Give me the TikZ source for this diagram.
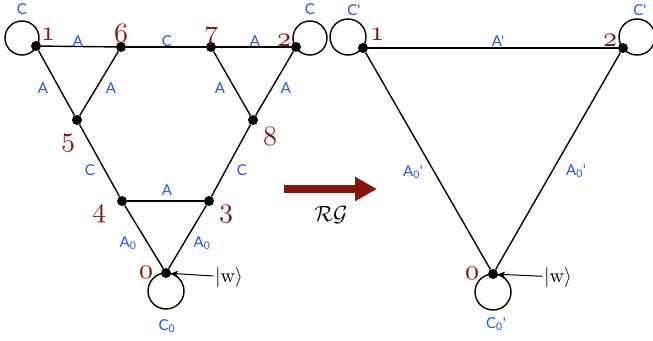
\documentclass[tikz,border=0pt]{standalone}
\usepackage{fontspec}
\newfontfamily\labfont{Lato}
\usetikzlibrary{arrows.meta,calc}
\definecolor{dred}{RGB}{135,20,8}
\definecolor{lblue}{RGB}{25,85,255}
\newcommand\bnum[1]{\scalebox{2.8}{{\fontencoding{OML}\fontfamily{cmm}\fontseries{m}\fontshape{it}\selectfont #1}}}
\newcommand\wket{\scalebox{2.0}{$|\mathrm{w}\rangle$}}
\begin{document}
\begin{tikzpicture}[x=1pt,y=-1pt,
  dot/.style={circle,fill=black,inner sep=0pt,minimum size=10pt},
  edge/.style={line width=1.4pt},
  num/.style={text=dred,inner sep=0pt},
  lab/.style={text=lblue,inner sep=0pt,font=\labfont\fontsize{15}{15}\selectfont},
  ket/.style={inner sep=1.5pt},
]
\useasboundingbox (0,0) rectangle (653,340);
% left graph nodes
\node[dot] (n1) at (36,46) {};
\node[dot] (n6) at (121,47) {};
\node[dot] (n7) at (211,47) {};
\node[dot] (n2) at (296,47) {};
\node[dot] (n5) at (77,120) {};
\node[dot] (n8) at (253,120) {};
\node[dot] (n4) at (122,201) {};
\node[dot] (n3) at (209,201) {};
\node[dot] (n0) at (166,273) {};
% loops
\draw[edge] (22,38) circle (17);
\draw[edge] (310,38) circle (17);
\draw[edge] (166,291) circle (18);
% edges
\draw[edge] (n1) -- (n6);
\draw[edge] (n6) -- (n7);
\draw[edge] (n7) -- (n2);
\draw[edge] (n1) -- (n5);
\draw[edge] (n6) -- (n5);
\draw[edge] (n7) -- (n8);
\draw[edge] (n2) -- (n8);
\draw[edge] (n5) -- (n4);
\draw[edge] (n8) -- (n3);
\draw[edge] (n4) -- (n3);
\draw[edge] (n4) -- (n0);
\draw[edge] (n3) -- (n0);
% numbers
\node[num] (t1) at (48,34) {\bnum{1}};
\node[num] (t6) at (121,33) {\bnum{6}};
\node[num] (t7) at (211,36) {\bnum{7}};
\node[num] (t2) at (284,40) {\bnum{2}};
\node[num] (t5) at (68,143) {\bnum{5}};
\node[num] (t8) at (270,136) {\bnum{8}};
\node[num] (t4) at (99,214) {\bnum{4}};
\node[num] (t3) at (226,214) {\bnum{3}};
\node[num] (t0) at (146,272) {\bnum{0}};
% edge labels
\node[lab] (lc1) at (22,9) {C};
\node[lab] (lc2) at (310,9) {C};
\node[lab] (lc0) at (167,326) {C\textsubscript{0}};
\node[lab] (a16) at (78,41) {A};
\node[lab] (c67) at (167,41) {C};
\node[lab] (a72) at (255,41) {A};
\node[lab] (a15) at (43,88) {A};
\node[lab] (a65) at (111,88) {A};
\node[lab] (a78) at (220,88) {A};
\node[lab] (a28) at (286,88) {A};
\node[lab] (c54) at (90,170) {C};
\node[lab] (c83) at (242,170) {C};
\node[lab] (a43) at (167,190) {A};
\node[lab] (a40) at (128,243) {A\textsubscript{0}};
\node[lab] (a30) at (202,243) {A\textsubscript{0}};
% ket
\node[ket] (w) at (229,277) {\wket};
\draw[line width=1pt,-{Stealth[length=7pt,width=6pt]}] (w) -- (n0);
% RG arrow
\coordinate (ra) at (284,189);
\coordinate (rb) at (377,189);
\draw[dred,line width=8pt,-{Triangle[length=22pt,width=23pt]}] (ra) -- (rb);
\node (rg) at (331,215) {\scalebox{2.2}{$\mathcal{RG}$}};
% right graph
\node[dot] (m1) at (363,48) {};
\node[dot] (m2) at (623,48) {};
\node[dot] (m0) at (493,274) {};
\draw[edge] (348,37) circle (18);
\draw[edge] (637,37) circle (18);
\draw[edge] (493,292) circle (18);
\draw[edge] (m1) -- (m2);
\draw[edge] (m1) -- (m0);
\draw[edge] (m2) -- (m0);
\node[num] (s1) at (377,34) {\bnum{1}};
\node[num] (s2) at (610,40) {\bnum{2}};
\node[num] (s0) at (472,273) {\bnum{0}};
\node[lab] (lc1p) at (354,10) {C'};
\node[lab] (lc2p) at (640,10) {C'};
\node[lab] (lc0p) at (496,324) {C\textsubscript{0}'};
\node[lab] (ap) at (498,41) {A'};
\node[lab] (a10p) at (413,172) {A\textsubscript{0}'};
\node[lab] (a20p) at (576,171) {A\textsubscript{0}'};
\node[ket] (wp) at (558,277) {\wket};
\draw[line width=1pt,-{Stealth[length=7pt,width=6pt]}] (wp) -- (m0);
\end{tikzpicture}
\end{document}
